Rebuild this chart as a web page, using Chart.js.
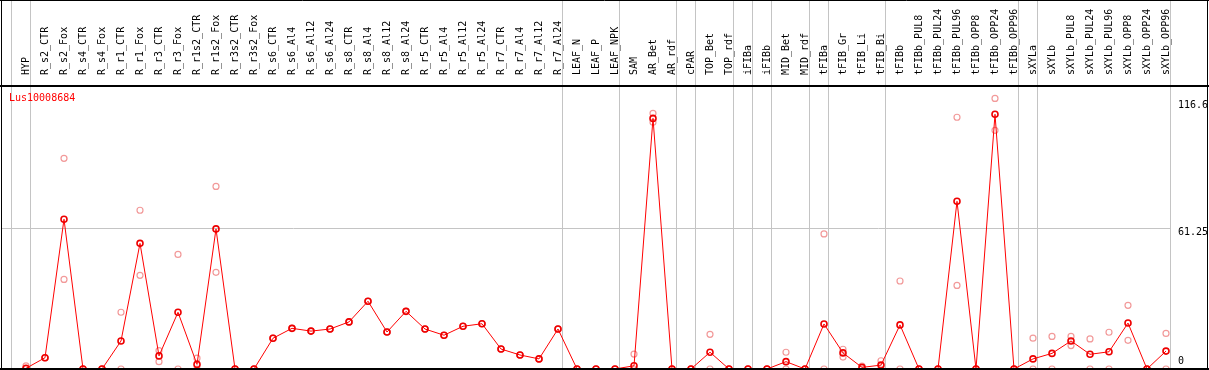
<!DOCTYPE html>
<html>
<head>
<meta charset="utf-8">
<script src="https://cdn.jsdelivr.net/npm/chart.js@4/dist/chart.umd.min.js"></script>
<style>
  html, body { margin: 0; padding: 0; background: #fff; }
  canvas { display: block; }
</style>
</head>
<body>
<canvas id="geneChart" width="1209" height="370"></canvas>
<script>
const geneName = 'Lus10008684';

const samples = [
  'HYP', 'R_s2_CTR', 'R_s2_Fox', 'R_s4_CTR', 'R_s4_Fox', 'R_r1_CTR', 'R_r1_Fox', 'R_r3_CTR', 'R_r3_Fox',
  'R_r1s2_CTR', 'R_r1s2_Fox', 'R_r3s2_CTR', 'R_r3s2_Fox', 'R_s6_CTR', 'R_s6_Al4', 'R_s6_Al12', 'R_s6_Al24',
  'R_s8_CTR', 'R_s8_Al4', 'R_s8_Al12', 'R_s8_Al24', 'R_r5_CTR', 'R_r5_Al4', 'R_r5_Al12', 'R_r5_Al24',
  'R_r7_CTR', 'R_r7_Al4', 'R_r7_Al12', 'R_r7_Al24', 'LEAF_N', 'LEAF_P', 'LEAF_NPK', 'SAM', 'AR_Bet', 'AR_rdf',
  'cPAR', 'TOP_Bet', 'TOP_rdf', 'iFIBa', 'iFIBb', 'MID_Bet', 'MID_rdf', 'tFIBa', 'tFIB_Gr', 'tFIB_Li', 'tFIB_Bi',
  'tFIBb', 'tFIBb_PUL8', 'tFIBb_PUL24', 'tFIBb_PUL96', 'tFIBb_OPP8', 'tFIBb_OPP24', 'tFIBb_OPP96',
  'sXYLa', 'sXYLb', 'sXYLb_PUL8', 'sXYLb_PUL24', 'sXYLb_PUL96', 'sXYLb_OPP8', 'sXYLb_OPP24', 'sXYLb_OPP96'
];

// mean expression (red line)
const meanValues = [
  0.3, 4.9, 65.2, 0, 0, 12.2, 54.7, 5.7, 24.7,
  2.0, 61.0, 0, 0, 13.4, 17.7, 16.5, 17.4,
  20.5, 29.5, 16.1, 25.1, 17.4, 14.7, 18.6, 19.7,
  8.7, 6.1, 4.4, 17.4, 0, 0, 0, 1.4, 109.1, 0,
  0, 7.3, 0, 0, 0, 3.2, 0, 19.6, 7.0, 0.7, 1.7,
  19.2, 0, 0, 73.0, 0, 110.9, 0,
  4.4, 6.8, 12.2, 6.4, 7.5, 20.0, 0, 7.8
];

// replicates (pale circles)
const repHigh = [
  1.4, 4.9, 91.7, 0, 0, 24.7, 69.1, 8.0, 49.9,
  4.7, 79.5, 0, 0, 13.4, 17.7, 16.5, 17.4,
  20.5, 29.5, 16.1, 25.1, 17.4, 14.7, 18.6, 19.7,
  8.7, 6.1, 4.4, 17.4, 0, 0, 0, 6.5, 111.3, 0,
  0, 15.1, 0, 0, 0, 7.3, 0, 58.8, 8.6, 1.3, 3.6,
  38.3, 0, 0, 109.6, 0, 117.8, 0,
  13.4, 14.2, 14.2, 13.1, 16.0, 27.7, 0, 15.5
];
const repLow = [
  0, 4.9, 39.0, 0, 0, 0, 40.8, 3.2, 0,
  0, 42.1, 0, 0, 13.4, 17.7, 16.5, 17.4,
  20.5, 29.5, 16.1, 25.1, 17.4, 14.7, 18.6, 19.7,
  8.7, 6.1, 4.4, 17.4, 0, 0, 0, 0, 107.4, 0,
  0, 0, 0, 0, 0, 0, 0, 0, 5.2, 0, 0,
  0, 0, 0, 36.4, 0, 103.9, 0,
  0, 0, 10.2, 0, 0, 12.5, 0, 0
];

// last sample index of each tissue group (-1 = left edge)
const groupEnds = [-1, 0, 28, 31, 34, 35, 37, 38, 39, 41, 42, 45, 52, 53, 60];
const yTicks = [0, 61.25, 116.6];

const monoFont = 'DejaVu Sans Mono';
const toPoints = arr => arr.map((v, i) => ({ x: i, y: v }));

const framePlugin = {
  id: 'frame',
  beforeDatasetsDraw(chart) {
    const { ctx, chartArea, scales } = chart;
    ctx.save();
    ctx.strokeStyle = '#c4c4c4';
    ctx.lineWidth = 1;
    groupEnds.forEach(g => {
      const px = Math.round(scales.x.getPixelForValue(g + 0.25)) - 0.5;
      ctx.beginPath();
      ctx.moveTo(px, 0);
      ctx.lineTo(px, chartArea.bottom);
      ctx.stroke();
    });
    ctx.restore();
  },
  afterDraw(chart) {
    const { ctx, chartArea, width } = chart;
    ctx.save();
    ctx.strokeStyle = '#000';
    ctx.lineWidth = 1;
    ctx.beginPath();
    ctx.moveTo(0, 0.5); ctx.lineTo(width, 0.5);
    ctx.moveTo(1.5, 0); ctx.lineTo(1.5, chartArea.bottom);
    ctx.moveTo(width - 1.5, 0); ctx.lineTo(width - 1.5, chartArea.bottom);
    ctx.stroke();
    ctx.lineWidth = 2;
    ctx.beginPath();
    ctx.moveTo(0, chartArea.top); ctx.lineTo(width, chartArea.top);
    ctx.moveTo(0, chartArea.bottom); ctx.lineTo(width, chartArea.bottom);
    ctx.stroke();
    ctx.fillStyle = '#ff0000';
    ctx.font = '10px "' + monoFont + '"';
    ctx.textBaseline = 'alphabetic';
    ctx.fillText(chart.data.datasets[0].label, 9, 101);
    ctx.restore();
  }
};

new Chart(document.getElementById('geneChart'), {
  type: 'line',
  data: {
    datasets: [
      {
        label: geneName,
        data: toPoints(meanValues),
        borderColor: '#ff0000',
        borderWidth: 1,
        tension: 0,
        pointRadius: 3,
        pointBorderWidth: 1.6,
        pointBorderColor: '#ee0000',
        pointBackgroundColor: 'rgba(0,0,0,0)',
        clip: 6
      },
      {
        label: 'rep1',
        data: toPoints(repHigh),
        showLine: false,
        pointRadius: 3,
        pointBorderWidth: 1.2,
        pointBorderColor: '#f29a9a',
        pointBackgroundColor: 'rgba(0,0,0,0)',
        clip: 6
      },
      {
        label: 'rep2',
        data: toPoints(repLow),
        showLine: false,
        pointRadius: 3,
        pointBorderWidth: 1.2,
        pointBorderColor: '#f29a9a',
        pointBackgroundColor: 'rgba(0,0,0,0)',
        clip: 6
      }
    ]
  },
  options: {
    responsive: false,
    animation: false,
    devicePixelRatio: 1,
    layout: {
      autoPadding: false,
      padding: { left: 1, bottom: 1, top: 0, right: 0 }
    },
    plugins: {
      legend: { display: false },
      tooltip: { enabled: false }
    },
    scales: {
      x: {
        type: 'linear',
        position: 'top',
        min: (1 - 26) / 19,
        max: (1171 - 26) / 19,
        afterBuildTicks: s => { s.ticks = samples.map((_, i) => ({ value: i })); },
        afterFit: s => {
          s.height = 86;
          s.paddingLeft = 0;
          s.paddingRight = 0;
        },
        grid: { display: false },
        border: { display: false },
        ticks: {
          autoSkip: false,
          minRotation: 90,
          maxRotation: 90,
          padding: 3,
          labelOffset: 12,
          color: '#000',
          font: { family: monoFont, size: 10 },
          callback: v => samples[v]
        }
      },
      y: {
        type: 'linear',
        position: 'right',
        min: 0,
        max: 123.2,
        afterBuildTicks: s => { s.ticks = yTicks.map(v => ({ value: v })); },
        afterFit: s => {
          s.width = 38;
          s.paddingTop = 0;
          s.paddingBottom = 0;
        },
        grid: {
          drawTicks: false,
          color: c => (c.tick && c.tick.value === 61.25) ? '#c4c4c4' : 'rgba(0,0,0,0)'
        },
        border: { display: false },
        ticks: {
          padding: 7,
          color: '#000',
          font: { family: monoFont, size: 10, lineHeight: 0.8 },
          callback: v => v === 0 ? ['0', '', ''] : ['', String(v)]
        }
      }
    }
  },
  plugins: [framePlugin]
});
</script>
</body>
</html>
